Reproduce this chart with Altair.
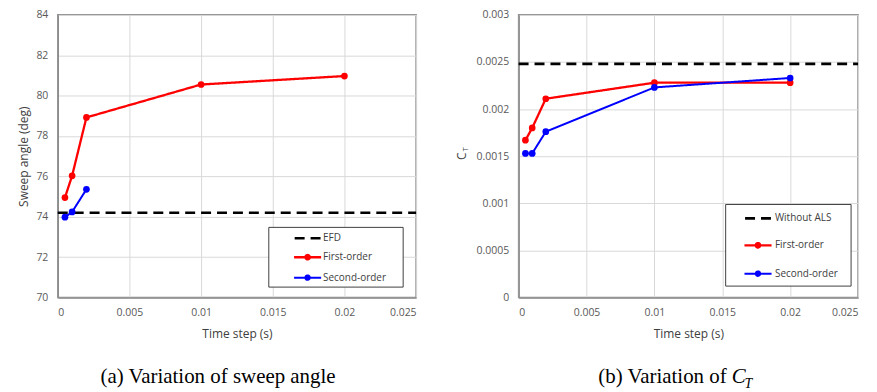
import altair as alt
import pandas as pd

# ---------------- data ----------------
series_names = ["First-order", "Second-order"]

# (a) sweep angle
time_a_first = [0.0005, 0.001, 0.002, 0.01, 0.02]
sweep_first = [74.95, 76.03, 78.92, 80.55, 80.97]
time_a_second = [0.0005, 0.001, 0.002]
sweep_second = [73.98, 74.24, 75.36]
efd_value = 74.2

# (b) thrust coefficient
time_b = [0.0005, 0.001, 0.002, 0.01, 0.02]
ct_first = [0.00167, 0.00180, 0.00211, 0.00228, 0.00228]
ct_second = [0.00153, 0.00153, 0.00176, 0.00223, 0.00233]
without_als = 0.00248

x_range = [0, 0.025]
x_ticks = [0, 0.005, 0.01, 0.015, 0.02, 0.025]
caption_a = "(a) Variation of sweep angle"
caption_b = "(b) Variation of"

FONT = "Open Sans"
RED = "#ff0000"
BLUE = "#0000ff"
DASH_PATH = "M-1.625,0H1.625"
LINE_DOT_PATH = "M-1.7,0H1.7M-0.28,0A0.28,0.28 0 1 1 0.28,0A0.28,0.28 0 1 1 -0.28,0Z"
PAD_CHAR = "\u2800"


def build_frames(ref_name, ref_value, t1, v1, t2, v2):
    lines = pd.DataFrame({
        "t": list(x_range) + list(t1) + list(t2),
        "v": [ref_value, ref_value] + list(v1) + list(v2),
        "series": [ref_name] * 2 + ["First-order"] * len(t1) + ["Second-order"] * len(t2),
    })
    pts = pd.DataFrame({
        "t": list(t1) + list(t2),
        "v": list(v1) + list(v2),
        "series": ["First-order"] * len(t1) + ["Second-order"] * len(t2),
    })
    return lines, pts


def panel(ref_name, ref_value, t1, v1, t2, v2, ydom, ystep, ytitle,
          lx, ly, lpad, rowpad, symoff, laboff, trail):
    lines, pts = build_frames(ref_name, ref_value, t1, v1, t2, v2)
    dom = [ref_name] + series_names
    legend = alt.Legend(
        title=None, orient="none", legendX=lx, legendY=ly,
        strokeColor="#404040", fillColor="white", padding=lpad,
        symbolSize=256, symbolStrokeWidth=2, symbolOpacity=1, rowPadding=rowpad,
        symbolOffset=symoff, labelOffset=laboff,
        labelFont=FONT, labelFontSize=10, labelColor="#404040",
        labelExpr="datum.label + '" + PAD_CHAR * trail + "'",
    )
    nsteps = int(round((ydom[1] - ydom[0]) / ystep))
    xenc = alt.X("t:Q", scale=alt.Scale(domain=x_range, nice=False),
                 axis=alt.Axis(title="Time step (s)", values=x_ticks,
                               labelExpr="format(datum.value, '~g')"))
    yenc = alt.Y("v:Q", scale=alt.Scale(domain=ydom, nice=False, zero=False),
                 axis=alt.Axis(title=ytitle,
                               values=[ydom[0] + i * ystep for i in range(nsteps + 1)],
                               labelExpr="format(datum.value, '~g')"))
    color = alt.Color("series:N", scale=alt.Scale(domain=dom, range=["#000000", RED, BLUE]), legend=legend)
    dash = alt.StrokeDash("series:N", scale=alt.Scale(domain=dom, range=[[10, 6], [1, 0], [1, 0]]), legend=legend)
    shape = alt.Shape("series:N", scale=alt.Scale(domain=dom, range=[DASH_PATH, LINE_DOT_PATH, LINE_DOT_PATH]),
                      legend=legend)
    holder = alt.Chart(pts).mark_point(filled=True, opacity=0).encode(
        x=xenc, y=yenc, color=color, shape=shape, strokeDash=dash)
    line = alt.Chart(lines).mark_line().encode(
        x=xenc, y=yenc, color=color, strokeDash=dash,
        strokeWidth=alt.StrokeWidth("series:N", scale=alt.Scale(domain=dom, range=[2.6, 2, 2]), legend=None),
    )
    points = alt.Chart(pts).mark_circle(size=45, opacity=1).encode(x=xenc, y=yenc, color=color)
    return [holder, line, points]


cap_a_df = pd.DataFrame({"cap": [caption_a]})
cap_b_df = pd.DataFrame({"cap": [caption_b]})
sym_df = pd.DataFrame({"c": ["C"], "s": ["T"]})

left_layers = panel("EFD", efd_value, time_a_first, sweep_first, time_a_second, sweep_second,
                    [70, 84], 2, "Sweep angle (deg)",
                    211.5, 213, 2, 4, 28, 6, 2)
cap_a = alt.Chart(cap_a_df).mark_text(font="Liberation Serif", fontSize=21, color="black", align="center",
                                      baseline="middle").encode(text="cap:N", x=alt.value(161), y=alt.value(364))
left = alt.layer(*left_layers, cap_a).properties(width=360, height=284)

right_layers = panel("Without ALS", without_als, time_b, ct_first, time_b, ct_second,
                     [0, 0.003], 0.0005, "",
                     207.5, 190, 5, 12, 18.5, 7.5, 1)
cap_plain = alt.Chart(cap_b_df).mark_text(font="Liberation Serif", fontSize=21, color="black", align="right",
                                          baseline="middle").encode(text="cap:N", x=alt.value(209), y=alt.value(364))
cap_c = alt.Chart(sym_df).mark_text(font="Liberation Serif", fontSize=21, fontStyle="italic", color="black",
                                    align="left", baseline="middle").encode(text="c:N", x=alt.value(214), y=alt.value(364))
cap_t = alt.Chart(sym_df).mark_text(font="Liberation Serif", fontSize=14, fontStyle="italic", color="black",
                                    align="left", baseline="middle").encode(text="s:N", x=alt.value(227), y=alt.value(371))
ylab_c = alt.Chart(sym_df).mark_text(font=FONT, fontSize=12, color="#404040", angle=270, align="center",
                                     baseline="middle").encode(text="c:N", x=alt.value(-57), y=alt.value(142))
ylab_t = alt.Chart(sym_df).mark_text(font=FONT, fontSize=7.5, color="#404040", angle=270, align="center",
                                     baseline="middle").encode(text="s:N", x=alt.value(-53), y=alt.value(135))
right = alt.layer(*right_layers, cap_plain, cap_c, cap_t, ylab_c, ylab_t).properties(width=341, height=284)

chart = alt.hconcat(left, right, spacing=33).resolve_scale(
    color="independent", strokeDash="independent", shape="independent", strokeWidth="independent"
).resolve_legend(
    color="independent", strokeDash="independent", shape="independent"
).properties(
    padding={"left": 9, "top": 0, "right": 5, "bottom": 0}
).configure_view(
    stroke="#8c8c8c", strokeWidth=1.5
).configure_axis(
    labelFont=FONT, labelFontSize=10.5, labelColor="#595959",
    titleFont=FONT, titleFontSize=12, titleColor="#404040", titleFontWeight="normal",
    grid=True, gridColor="#d9d9d9", gridWidth=1,
    domainColor="#8c8c8c", domainWidth=1.5, ticks=False,
    labelPadding=10, titlePadding=11,
).configure_axisY(titlePadding=5)

chart.save("out.html", embed_options={"renderer": "svg", "actions": False})
